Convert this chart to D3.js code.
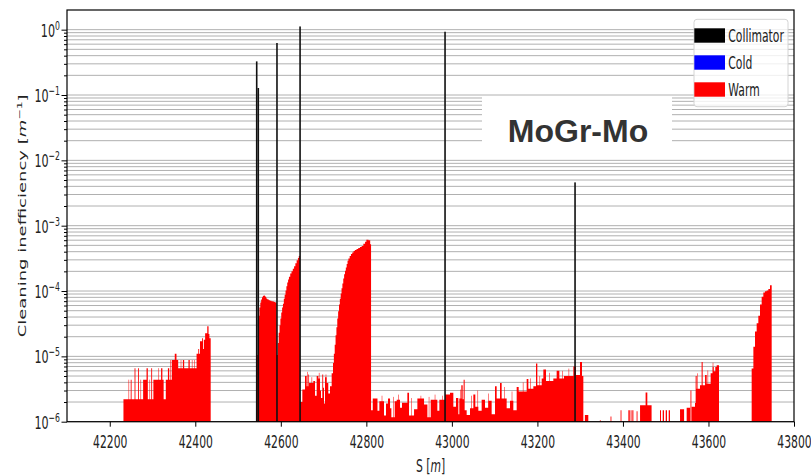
<!DOCTYPE html>
<html>
<head>
<meta charset="utf-8">
<script src="https://cdn.jsdelivr.net/npm/d3@7"></script>
<style>
  html, body { margin: 0; padding: 0; background: #fff; }
  svg { display: block; }
</style>
</head>
<body>
<svg id="chart" width="811" height="476"></svg>
<script>
// ---- axis ranges and ticks ----
const sRange = [42100, 43800];
const yRange = [1e-6, 2];
const xTickValues = [42200, 42400, 42600, 42800, 43000, 43200, 43400, 43600, 43800];
const decadeExponents = [-6, -5, -4, -3, -2, -1, 0];

// ---- legend ----
const legendLabels = ["Collimator", "Cold", "Warm"];
const legendColors = ["#000000", "#0000ff", "#ff0000"];

// ---- collimator losses: [s (m), inefficiency (1/m)] ----
const collimatorLosses = [
  [42543.6, 0.327], [42547.3, 0.128], [42591, 0.625],
  [42645, 1.12], [42984, 0.93], [43288, 0.0046]
];

// ---- cold losses (none in this range) ----
const coldBins = [];

// ---- warm losses: [s start, s end, inefficiency] ----
const warmUpstream = [
  [42232, 42249, 2.2e-6], [42249, 42251, 4.4e-6], [42251, 42258, 2.2e-6], [42258, 42260, 6.6e-6],
  [42260, 42266, 2.2e-6], [42266, 42268, 6.6e-6], [42268, 42278, 2.2e-6], [42278, 42286, 4.4e-6],
  [42286, 42289, 6.6e-6], [42289, 42297, 2.2e-6], [42297, 42299, 6.6e-6], [42299, 42302, 2.2e-6],
  [42302, 42320, 4.4e-6], [42320, 42323, 6.6e-6], [42323, 42326, 4.4e-6], [42326, 42331, 2.2e-6],
  [42331, 42336, 4.4e-6], [42336, 42339, 6.6e-6], [42339, 42345, 4.4e-6], [42345, 42352, 8.8e-6],
  [42352, 42356, 1.1e-5], [42356, 42360, 8.8e-6], [42360, 42371, 6.6e-6], [42371, 42374, 8.8e-6],
  [42374, 42384, 6.6e-6], [42384, 42387, 8.8e-6], [42387, 42403, 6.6e-6], [42403, 42407, 1.1e-5],
  [42407, 42409, 1.3e-5], [42409, 42411, 1.1e-5], [42411, 42416, 1.7e-5], [42416, 42418, 1.9e-5],
  [42418, 42420, 1.3e-5], [42420, 42423, 1.8e-5], [42423, 42428, 2.25e-5], [42428, 42431, 2.9e-5],
  [42431, 42433, 2.2e-5], [42433, 42436, 1.9e-5]
];

const warmPeakA = [
  [42543.5, 42546, 1.05e-5], [42546, 42548, 3.6e-5], [42548, 42550, 4.2e-5], [42550, 42552, 5.6e-5],
  [42552, 42554, 6.7e-5], [42554, 42556, 7.4e-5], [42556, 42558, 8.0e-5], [42558, 42560, 8.4e-5],
  [42560, 42562, 8.6e-5], [42562, 42564, 8.4e-5], [42564, 42566, 8.1e-5], [42566, 42568, 7.7e-5],
  [42568, 42570, 7.5e-5], [42570, 42572, 7.4e-5], [42572, 42575, 7.2e-5], [42575, 42578, 7.1e-5],
  [42578, 42581, 7.0e-5], [42581, 42584, 6.9e-5], [42584, 42587, 6.8e-5], [42587, 42590.5, 6.7e-5],
  [42590.5, 42593, 1.05e-5], [42593, 42595, 1.6e-5], [42595, 42597, 2.3e-5], [42597, 42599, 3.0e-5],
  [42599, 42601, 3.8e-5], [42601, 42603, 4.7e-5], [42603, 42605, 5.6e-5], [42605, 42607, 6.4e-5],
  [42607, 42609, 7.6e-5], [42609, 42611, 8.8e-5], [42611, 42613, 1.02e-4], [42613, 42615, 1.18e-4],
  [42615, 42617, 1.35e-4], [42617, 42619, 1.5e-4], [42619, 42622, 1.65e-4], [42622, 42625, 1.85e-4],
  [42625, 42628, 2.0e-4], [42628, 42631, 2.2e-4], [42631, 42634, 2.4e-4], [42634, 42637, 2.65e-4],
  [42637, 42640, 2.95e-4], [42640, 42642, 3.2e-4], [42642, 42645, 3.45e-4]
];

const warmNoiseA = [
  [42645, 42650.3, 2.0e-6], [42650.3, 42656.5, 3.1e-6], [42656.5, 42660.4, 5.0e-6], [42660.4, 42664.3, 3.5e-6],
  [42664.3, 42666, 5.3e-6], [42666, 42676, 3.9e-6], [42676, 42679.9, 4.2e-6], [42679.9, 42683.8, 2.5e-6],
  [42683.8, 42687.7, 5.0e-6], [42687.7, 42691.6, 4.6e-6], [42691.6, 42693.9, 3.0e-6], [42693.9, 42697, 2.3e-6],
  [42697, 42699, 5.3e-6], [42699, 42701, 3.3e-6], [42701, 42703.3, 1.9e-6], [42703.3, 42707.2, 4.8e-6],
  [42707.2, 42711, 3.9e-6], [42711, 42715, 2.7e-6], [42715, 42718.9, 3.5e-6], [42718.9, 42720.4, 5.5e-6]
];

const warmPeakB = [
  [42720.4, 42722, 5.5e-6], [42722, 42724, 7.9e-6], [42724, 42726, 1.1e-5], [42726, 42728, 1.5e-5],
  [42728, 42730, 2.1e-5], [42730, 42732, 2.8e-5], [42732, 42734, 3.8e-5], [42734, 42736, 4.9e-5],
  [42736, 42738, 6.2e-5], [42738, 42740, 7.6e-5], [42740, 42742, 9.2e-5], [42742, 42744, 1.1e-4],
  [42744, 42746, 1.3e-4], [42746, 42748, 1.55e-4], [42748, 42750, 1.8e-4], [42750, 42752, 2.05e-4],
  [42752, 42754, 2.3e-4], [42754, 42756, 2.6e-4], [42756, 42758, 2.9e-4], [42758, 42761, 3.15e-4],
  [42761, 42764, 3.45e-4], [42764, 42767, 3.7e-4], [42767, 42770, 3.9e-4], [42770, 42773, 4.1e-4],
  [42773, 42777, 4.25e-4], [42777, 42781, 4.4e-4], [42781, 42785, 4.55e-4], [42785, 42789, 4.7e-4],
  [42789, 42793, 4.9e-4], [42793, 42797, 5.3e-4], [42797, 42800, 5.7e-4], [42800, 42805, 6.1e-4],
  [42805, 42809, 6.0e-4], [42809, 42811, 5.2e-4]
];

const warmLowLevel = [
  [42811, 42815, 1.5e-6], [42815, 42826, 2.26e-6], [42826, 42830.4, 1.47e-6], [42830.4, 42841.3, 2.05e-6],
  [42841.3, 42846, 1.24e-6], [42846, 42850.7, 1.9e-6], [42850.7, 42855.4, 2.26e-6], [42855.4, 42858.5, 1.6e-6],
  [42858.5, 42866.3, 1.17e-6], [42866.3, 42871, 2.05e-6], [42871, 42878.7, 2.16e-6], [42878.7, 42883.4, 1.64e-6],
  [42883.4, 42895.9, 1.95e-6], [42895.9, 42899.8, 2.78e-6], [42899.8, 42911.5, 1.24e-6], [42911.5, 42919.3, 1.55e-6],
  [42919.3, 42934.9, 2.26e-6], [42934.9, 42942.7, 1.83e-6], [42942.7, 42950.5, 1.17e-6], [42950.5, 42966, 2.16e-6],
  [42966, 42970.7, 1.47e-6], [42970.7, 42983.9, 2.16e-6], [42983.9, 42995.6, 2.6e-6], [42995.6, 43003.4, 2.78e-6],
  [43003.4, 43009.6, 1.7e-6], [43009.6, 43015.1, 2.3e-6], [43015.1, 43017.4, 1.3e-6], [43017.4, 43022.1, 2.26e-6],
  [43022.1, 43025.2, 3.6e-6], [43025.2, 43027.5, 2.2e-6], [43027.5, 43029.9, 4.4e-6], [43029.9, 43034.6, 1.5e-6],
  [43034.6, 43042.4, 1.27e-6], [43042.4, 43050.2, 1.6e-6], [43050.2, 43054.8, 2.6e-6], [43054.8, 43061.8, 1.7e-6],
  [43061.8, 43069.6, 1.47e-6], [43069.6, 43077.4, 2.16e-6], [43077.4, 43085.2, 1.64e-6], [43085.2, 43093, 2.1e-6],
  [43093, 43100.8, 1.3e-6], [43100.8, 43104.7, 3.5e-6], [43104.7, 43112.5, 2.26e-6], [43112.5, 43116.4, 3.9e-6],
  [43116.4, 43128.1, 2.26e-6], [43128.1, 43135.9, 1.6e-6], [43135.9, 43143.7, 2.1e-6], [43143.7, 43151.5, 1.5e-6],
  [43151.5, 43156.2, 3.4e-6], [43156.2, 43174.9, 2.9e-6], [43174.9, 43178.8, 4.5e-6], [43178.8, 43190.5, 3.2e-6],
  [43190.5, 43196.7, 3.5e-6], [43196.7, 43199.8, 7.8e-6], [43199.8, 43210, 3.6e-6], [43210, 43213.9, 4.6e-6],
  [43213.9, 43220.1, 6.3e-6], [43220.1, 43237.2, 4.2e-6], [43237.2, 43245, 4.6e-6], [43245, 43251.3, 6.0e-6],
  [43251.3, 43262.2, 4.6e-6], [43262.2, 43284, 5.0e-6], [43284, 43290.2, 7.0e-6], [43290.2, 43299.6, 5.2e-6],
  [43299.6, 43304.3, 8.2e-6], [43304.3, 43307.4, 5.0e-6]
];

const warmSparse = [
  [43311, 43319, 1.27e-6], [43346, 43348, 1.05e-6], [43371, 43373, 1.2e-6], [43394.5, 43396.5, 1.5e-6],
  [43412.7, 43416, 1.5e-6], [43418, 43420, 1.5e-6], [43422, 43424.4, 1.5e-6], [43432, 43434, 1.44e-6],
  [43440, 43453, 1.79e-6], [43453, 43457, 2.8e-6], [43457, 43467, 1.79e-6], [43486.7, 43489, 1.5e-6],
  [43493, 43496, 1.5e-6], [43500, 43503, 1.5e-6], [43507, 43510, 1.5e-6], [43533.5, 43543, 1.55e-6],
  [43549, 43557, 1.63e-6], [43558, 43560, 3.0e-6], [43560.8, 43568.5, 1.7e-6]
];

const warmCellEnd = [
  [43568.5, 43570, 1.93e-6], [43570, 43572.4, 5.0e-6], [43572.4, 43580.2, 3.2e-6], [43580.2, 43584, 3.6e-6],
  [43584, 43586.4, 8.2e-6], [43586.4, 43592, 3.6e-6], [43592, 43595.8, 5.2e-6], [43595.8, 43605.1, 3.8e-6],
  [43605.1, 43609.8, 5.5e-6], [43609.8, 43612.2, 6.9e-6], [43612.2, 43616, 5.9e-6], [43616, 43619.2, 6.9e-6],
  [43619.2, 43624.6, 7.3e-6]
];

const warmPeakC = [
  [43701, 43705, 6.5e-6], [43705, 43708.8, 1.4e-5], [43708.8, 43712.7, 2.4e-5], [43712.7, 43716.6, 3.2e-5],
  [43716.6, 43720.5, 4.2e-5], [43720.5, 43724.4, 6.2e-5], [43724.4, 43728.3, 8.2e-5], [43728.3, 43732.2, 9.5e-5],
  [43732.2, 43736.1, 9.9e-5], [43736.1, 43740, 1.02e-4], [43740, 43743.9, 1.07e-4], [43743.9, 43747.8, 1.23e-4]
];

// single narrow warm loss spikes: [s, inefficiency]
const warmSpikes = [
  [42244, 4.4e-6], [42272, 4.4e-6], [42293, 4.4e-6], [42314, 6.6e-6], [42342, 8.8e-6], [42366, 8.8e-6],
  [42392, 8.8e-6], [42398, 8.8e-6], [42662, 5.8e-6], [42672, 4.8e-6], [42689, 5.6e-6], [42705, 5.3e-6],
  [42836, 2.5e-6], [42863, 2.4e-6], [42874, 2.6e-6], [42905, 2.3e-6], [42927, 2.5e-6], [42946, 2.4e-6],
  [42960, 2.6e-6], [42977, 2.5e-6], [43020, 3.1e-6], [43045, 2.5e-6], [43060, 3.0e-6], [43085, 2.7e-6],
  [43123, 3.4e-6], [43140, 2.9e-6], [43166, 4.0e-6], [43183, 4.6e-6], [43205, 5.0e-6], [43228, 5.6e-6],
  [43258, 6.0e-6], [43273, 6.5e-6], [43302, 6.6e-6], [43574, 5.5e-6], [43598, 6.1e-6], [43610, 8.0e-6]
];

// ---- drawing ----
const svg = d3.select("#chart");
const plot = { left: 67, right: 794, top: 10, bottom: 421.7 };
const squish = 0.6;          // horizontal text compression
const tickFont = "'DejaVu Sans', sans-serif";
const spikeWidth = 1.2;      // m

const x = d3.scaleLinear().domain(sRange).range([plot.left, plot.right]);
const y = d3.scaleLog().domain(yRange).range([plot.bottom, plot.top]);
const base = y(yRange[0]);

const majorValues = decadeExponents.map(e => Math.pow(10, e));
const minorValues = [];
decadeExponents.forEach(e => {
  for (let m = 2; m <= 9; m++) {
    const v = m * Math.pow(10, e);
    if (v < yRange[1]) minorValues.push(v);
  }
});

// horizontal grid (major + minor)
svg.append("g")
  .selectAll("line")
  .data(majorValues.concat(minorValues))
  .join("line")
  .attr("x1", plot.left).attr("x2", plot.right)
  .attr("y1", d => y(d)).attr("y2", d => y(d))
  .attr("stroke", "#b0b0b0")
  .attr("stroke-width", 1);

// bins of one loss class drawn as a single path, so neighbouring bars join without seams
function binPath(bins) {
  const p = d3.path();
  bins.forEach(([s0, s1, v]) => {
    p.rect(x(s0), y(v), x(s1) - x(s0), base - y(v));
  });
  return p.toString();
}

const warmBins = [].concat(warmUpstream, warmPeakA, warmNoiseA, warmPeakB,
                           warmLowLevel, warmSparse, warmCellEnd, warmPeakC);

svg.append("path")
  .attr("d", binPath(warmBins))
  .attr("fill", legendColors[2]);

svg.append("g")
  .attr("fill", legendColors[2])
  .selectAll("rect")
  .data(warmSpikes)
  .join("rect")
  .attr("x", d => x(d[0]))
  .attr("width", d => x(d[0] + spikeWidth) - x(d[0]))
  .attr("y", d => y(d[1]))
  .attr("height", d => base - y(d[1]));

// cold bins
svg.append("path")
  .attr("d", binPath(coldBins))
  .attr("fill", legendColors[1]);

// collimator lines
svg.append("g")
  .selectAll("rect")
  .data(collimatorLosses)
  .join("rect")
  .attr("x", d => x(d[0]) - 0.8)
  .attr("width", 1.6)
  .attr("y", d => y(d[1]))
  .attr("height", d => base - y(d[1]))
  .attr("fill", "#111");

// element label box
svg.append("rect")
  .attr("x", 482).attr("y", 97).attr("width", 190).attr("height", 53)
  .attr("fill", "#fff");
svg.append("text")
  .attr("x", 578).attr("y", 141.5)
  .attr("text-anchor", "middle")
  .attr("font-family", "'Liberation Sans', Arial, sans-serif")
  .attr("font-weight", "bold")
  .attr("font-size", 32)
  .attr("fill", "#333")
  .text("MoGr-Mo");

// legend
const legend = svg.append("g");
legend.append("rect")
  .attr("x", 694).attr("y", 19.3).attr("width", 94).attr("height", 87.4)
  .attr("rx", 3)
  .attr("fill", "#fff").attr("fill-opacity", 0.8)
  .attr("stroke", "#d4d4d4").attr("stroke-width", 1);
legendLabels.forEach((label, i) => {
  legend.append("rect")
    .attr("x", 694.3).attr("y", 28.3 + i * 27)
    .attr("width", 30.7).attr("height", 14.4)
    .attr("fill", legendColors[i]);
  legend.append("text")
    .attr("transform", `translate(728.3,${41.7 + i * 27}) scale(${squish},1)`)
    .attr("font-family", tickFont)
    .attr("font-size", 18)
    .attr("fill", "#222")
    .text(label);
});

// x axis
const xAxis = svg.append("g")
  .attr("transform", `translate(0,${plot.bottom})`)
  .call(d3.axisBottom(x).tickValues(xTickValues).tickSize(5).tickPadding(8.5).tickFormat(d3.format("d")));
xAxis.select(".domain").remove();
xAxis.selectAll("line").attr("stroke", "#000");
xAxis.selectAll("text")
  .attr("transform", `scale(${squish},1)`)
  .attr("font-family", tickFont)
  .attr("font-size", 18)
  .attr("fill", "#222");

// y axis: major and minor ticks
const yMajor = svg.append("g")
  .attr("transform", `translate(${plot.left},0)`)
  .call(d3.axisLeft(y).tickValues(majorValues).tickSize(5.5).tickFormat(""));
yMajor.select(".domain").remove();
yMajor.selectAll("text").remove();
yMajor.selectAll("line").attr("stroke", "#000");

const yMinor = svg.append("g")
  .attr("transform", `translate(${plot.left},0)`)
  .call(d3.axisLeft(y).tickValues(minorValues).tickSize(3).tickFormat(""));
yMinor.select(".domain").remove();
yMinor.selectAll("text").remove();
yMinor.selectAll("line").attr("stroke", "#000");

// y tick labels as powers of ten
decadeExponents.forEach(e => {
  const t = svg.append("text")
    .attr("transform", `translate(${plot.left - 7},${y(Math.pow(10, e)) + 7}) scale(0.62,1)`)
    .attr("text-anchor", "end")
    .attr("font-family", tickFont)
    .attr("font-size", 18)
    .attr("fill", "#222");
  t.append("tspan").text("10");
  t.append("tspan").attr("dy", -7).attr("font-size", 12.5)
    .text(e < 0 ? "\u2212" + Math.abs(e) : String(e));
});

// axis titles
const yTitle = svg.append("text")
  .attr("transform", `translate(26,${(plot.top + plot.bottom) / 2}) scale(${squish},1) rotate(-90)`)
  .attr("text-anchor", "middle")
  .attr("font-family", tickFont)
  .attr("font-size", 18)
  .attr("fill", "#222");
yTitle.append("tspan").text("Cleaning inefficiency [");
yTitle.append("tspan").attr("font-style", "italic").text("m");
yTitle.append("tspan").attr("dy", -7).attr("font-size", 12.5).text("\u22121");
yTitle.append("tspan").attr("dy", 7).text("]");

const xTitle = svg.append("text")
  .attr("transform", `translate(${(plot.left + plot.right) / 2},472) scale(${squish},1)`)
  .attr("text-anchor", "middle")
  .attr("font-family", tickFont)
  .attr("font-size", 18)
  .attr("fill", "#222");
xTitle.append("tspan").text("S [");
xTitle.append("tspan").attr("font-style", "italic").text("m");
xTitle.append("tspan").text("]");

// frame
svg.append("rect")
  .attr("x", plot.left).attr("y", plot.top)
  .attr("width", plot.right - plot.left).attr("height", plot.bottom - plot.top)
  .attr("fill", "none").attr("stroke", "#000").attr("stroke-width", 1.2);
</script>
</body>
</html>
